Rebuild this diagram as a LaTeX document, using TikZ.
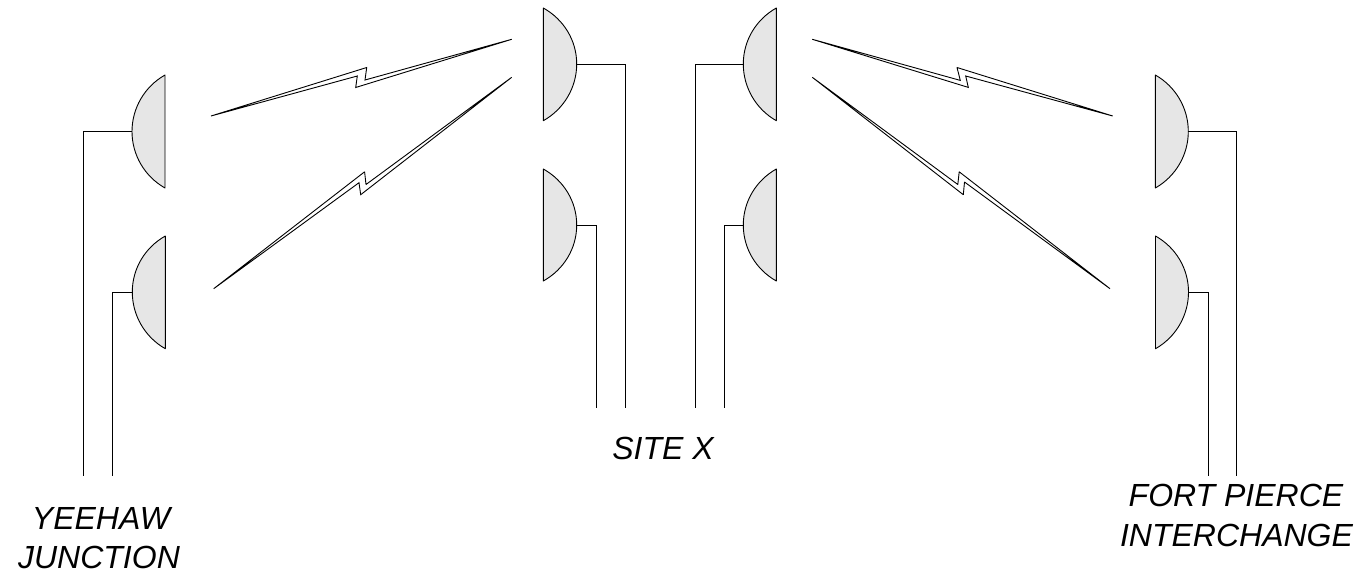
\documentclass[tikz,border=0pt]{standalone}
\usepackage{fontspec}
\setmainfont{Liberation Sans}
\definecolor{dishgray}{HTML}{E6E6E6}
\tikzset{
  dishshape/.style={draw=black,fill=dishgray,line width=0.9pt,line join=round},
  linkline/.style={draw=black,line width=0.9pt,line join=miter},
  boltshape/.style={draw=black,fill=white,line width=0.9pt,line join=miter,miter limit=2},
  sitelabel/.style={font=\fontsize{32}{38}\selectfont\itshape,text=black,inner sep=0pt,align=center,anchor=base}
}
% #1 name, #2 flat x, #3 top y, #4 apex x, #5 bottom y, #6 mid y
\newcommand{\dishat}[6]{%
  \path[dishshape] (#2,#3) .. controls ({#2+0.617*(#4-#2)},{#3+11.5}) and (#4,{#6-23.4}) .. (#4,#6)
     .. controls (#4,{#6+23.4}) and ({#2+0.617*(#4-#2)},{#5-11.5}) .. (#2,#5) -- cycle;
  \coordinate (#1) at (#4,#6);
}
\begin{document}
\begin{tikzpicture}[x=1pt,y=-1pt]
\useasboundingbox (0,0) rectangle (1360,576);
% lead ends
\coordinate (ya) at (83.7,476);
\coordinate (yb) at (112.7,476);
\coordinate (sa) at (625.3,408);
\coordinate (sb) at (596,408);
\coordinate (sc) at (695,408);
\coordinate (sd) at (724,408);
\coordinate (fa) at (1236.8,476);
\coordinate (fb) at (1208.2,476);
\dishat{d1}{165}{75}{132}{188}{131.5}
\dishat{d2}{165.3}{236}{132.3}{348.7}{292}
\dishat{d3}{543.3}{8}{576.7}{120.7}{64}
\dishat{d4}{543.3}{169}{576.7}{281}{225}
\dishat{d5}{776.3}{8}{743.3}{120.7}{64}
\dishat{d6}{776.3}{169}{743.3}{281}{225}
\dishat{d7}{1155.3}{75}{1188.3}{188}{131.5}
\dishat{d8}{1155.5}{236}{1188.5}{348.7}{292}
\draw[linkline] (d1) -| (ya);
\draw[linkline] (d2) -| (yb);
\draw[linkline] (d3) -| (sa);
\draw[linkline] (d4) -| (sb);
\draw[linkline] (d5) -| (sc);
\draw[linkline] (d6) -| (sd);
\draw[linkline] (d7) -| (fa);
\draw[linkline] (d8) -| (fb);
% lightning bolts
\path[boltshape] (211,116) -- (366.7,67.5) -- (365,80) -- (511.7,39.3) -- (355.7,87.5) -- (357.3,76) -- cycle;
\path[boltshape] (213.7,288.7) -- (364.6,171.8) -- (366,184.5) -- (511.7,77.3) -- (360.7,194.7) -- (359,182.7) -- cycle;
\path[boltshape] (812.3,39.3) -- (968.3,87.4) -- (965.7,76) -- (1112.7,116) -- (957,67.5) -- (960.3,80.4) -- cycle;
\path[boltshape] (812.3,77.3) -- (963.3,194.7) -- (964.5,182) -- (1110,288.7) -- (959.2,171.8) -- (957.8,184.5) -- cycle;
% labels
\node[sitelabel] (site) at (663,459.3) {SITE X};
\node[sitelabel] (yee) at (101,529.3) {YEEHAW};
\node[sitelabel] (jun) at (99,568.3) {JUNCTION};
\node[sitelabel] (fort) at (1236,506.7) {FORT PIERCE};
\node[sitelabel] (inter) at (1236.5,546) {INTERCHANGE};
\end{tikzpicture}
\end{document}
